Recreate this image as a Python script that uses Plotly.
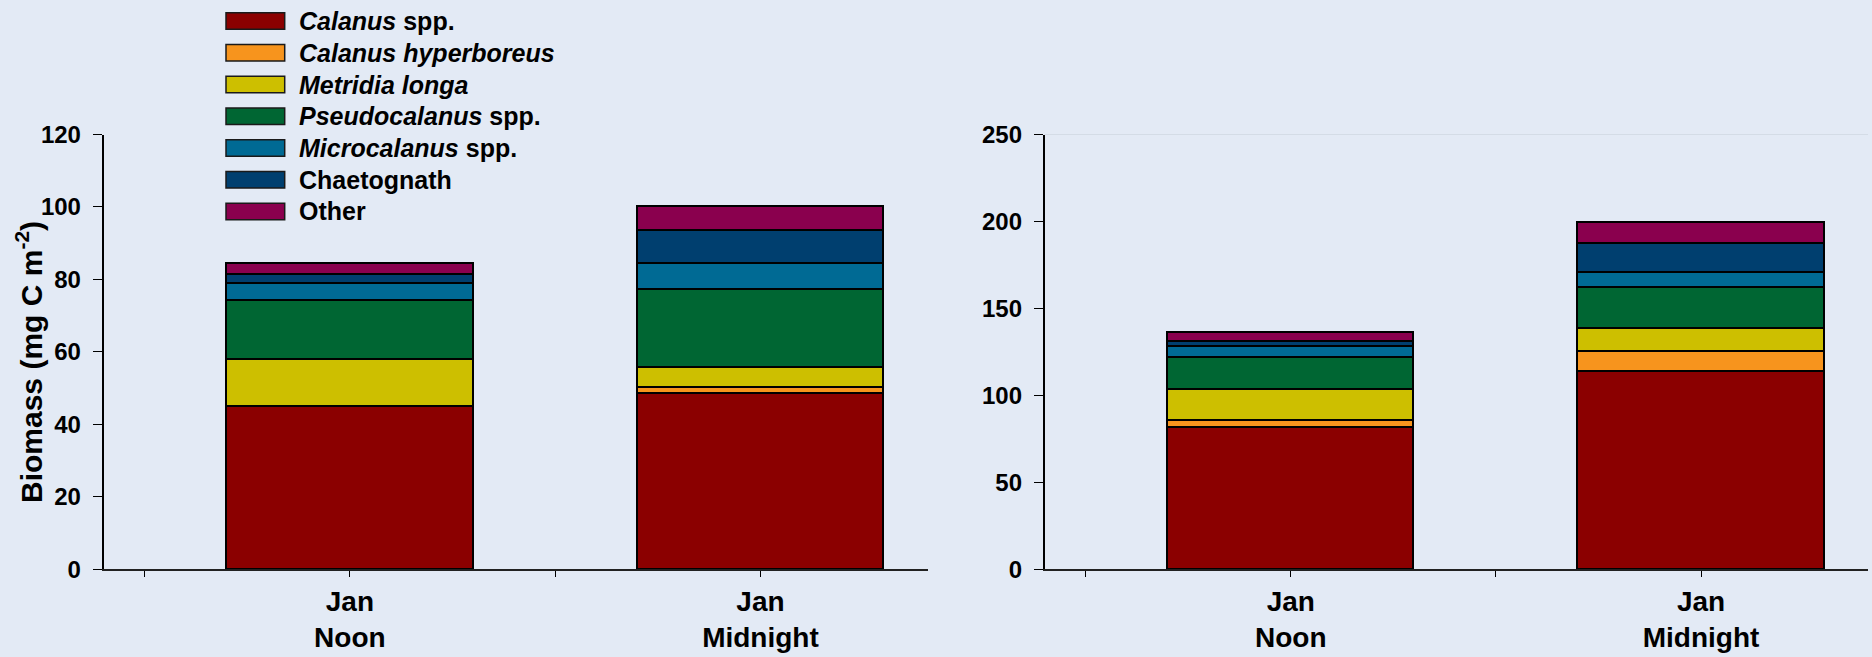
import plotly.graph_objects as go

# Sampling occasions (x categories)
categories = ["Jan<br>Noon", "Jan<br>Midnight"]

# Taxa, legend labels and fill colours (bottom of stack first)
taxa = ["Calanus spp.", "Calanus hyperboreus", "Metridia longa",
        "Pseudocalanus spp.", "Microcalanus spp.", "Chaetognath", "Other"]
taxa_labels = ["<i>Calanus</i> spp.", "<i>Calanus hyperboreus</i>", "<i>Metridia longa</i>",
               "<i>Pseudocalanus</i> spp.", "<i>Microcalanus</i> spp.", "Chaetognath", "Other"]
taxa_colors = ["#8B0000", "#F7941D", "#CDBF00", "#006633", "#006A94", "#003F6F", "#8A004E"]

# Left panel biomass (mg C m-2), [Noon, Midnight]
left_calanus = [44.8, 48.5]
left_hyperboreus = [0.0, 1.7]
left_metridia = [13.2, 5.4]
left_pseudocalanus = [16.1, 21.7]
left_microcalanus = [4.8, 7.2]
left_chaetognath = [2.5, 9.0]
left_other = [2.9, 6.6]

# Right panel biomass (mg C m-2), [Noon, Midnight]
right_calanus = [81.5, 113.8]
right_hyperboreus = [4.2, 11.7]
right_metridia = [17.9, 12.7]
right_pseudocalanus = [18.3, 24.0]
right_microcalanus = [6.1, 8.5]
right_chaetognath = [2.7, 16.5]
right_other = [5.4, 12.1]

left_ticks = [0, 20, 40, 60, 80, 100, 120]
right_ticks = [0, 50, 100, 150, 200, 250]

left_series = [left_calanus, left_hyperboreus, left_metridia, left_pseudocalanus,
               left_microcalanus, left_chaetognath, left_other]
right_series = [right_calanus, right_hyperboreus, right_metridia, right_pseudocalanus,
                right_microcalanus, right_chaetognath, right_other]

W, H = 1872, 657
BG = "#E3EAF5"
FONT = "Liberation Sans, Arial, sans-serif"

xpos = list(range(len(categories)))
# boundaries between occasions get small unlabeled ticks
boundaries = [i - 0.5 for i in xpos]

fig = go.Figure()
for name, vals_l, vals_r, col in zip(taxa, left_series, right_series, taxa_colors):
    fig.add_trace(go.Bar(x=xpos, y=vals_l, name=name, width=0.6,
                         marker=dict(color=col, line=dict(color="#000000", width=1.5)),
                         xaxis="x", yaxis="y", showlegend=False))
    fig.add_trace(go.Bar(x=xpos, y=vals_r, name=name, width=0.6,
                         marker=dict(color=col, line=dict(color="#000000", width=1.5)),
                         xaxis="x2", yaxis="y2", showlegend=False))

ydom = [(H - 569.3) / H, (H - 134.5) / H]

xaxis_common = dict(
    range=[-0.6, 1.407], tickmode="array", tickvals=xpos, ticktext=categories,
    ticks="outside", ticklen=6, tickwidth=1.2, tickcolor="#000000",
    minor=dict(tickmode="array", tickvals=boundaries, ticks="outside",
               ticklen=6, tickwidth=1.2, tickcolor="#000000", showgrid=False),
    showline=True, linecolor="#222222", linewidth=2, showgrid=False, zeroline=False,
    tickfont=dict(family=FONT, size=28, color="#000000", weight="bold"),
    ticklabelstandoff=0, automargin=False, fixedrange=True,
)
yaxis_common = dict(
    ticks="outside", ticklen=9, tickwidth=1.2, tickcolor="#000000",
    showline=True, linecolor="#000000", linewidth=1.5, showgrid=False, zeroline=False,
    tickfont=dict(family=FONT, size=24, color="#000000", weight="bold"),
    ticklabelstandoff=7, tickmode="array", domain=ydom, automargin=False,
    fixedrange=True,
)

fig.update_layout(
    width=W, height=H,
    margin=dict(l=0, r=0, t=0, b=0, autoexpand=False),
    paper_bgcolor=BG, plot_bgcolor=BG,
    barmode="stack", bargap=0,
    showlegend=False,
    xaxis=dict(domain=[103.5 / W, 927.6 / W], anchor="y", **xaxis_common),
    xaxis2=dict(domain=[1044.6 / W, 1868 / W], anchor="y2", **xaxis_common),
    yaxis=dict(range=[0, 120], tickvals=left_ticks, anchor="x", **yaxis_common),
    yaxis2=dict(range=[0, 250], tickvals=right_ticks, anchor="x2", **yaxis_common),
)

# Light reference line across the top of the right panel
fig.add_shape(type="line", xref="x2 domain", yref="y2", x0=0, x1=1,
              y0=right_ticks[-1], y1=right_ticks[-1],
              line=dict(color="#C6CDD7", width=1), layer="below")

# Y-axis title
fig.add_annotation(text="Biomass (mg C m<sup>-2</sup>)", textangle=-90,
                   xref="paper", yref="paper", x=29 / W, y=(H - 362) / H,
                   xanchor="center", yanchor="middle", showarrow=False,
                   font=dict(family=FONT, size=30, color="#000000", weight="bold"))

# Legend: swatches and labels
row0, row_step = 21.0, 31.75
for i, (lab, col) in enumerate(zip(taxa_labels, taxa_colors)):
    yc = row0 + i * row_step
    fig.add_shape(type="rect", xref="paper", yref="paper",
                  x0=226 / W, x1=284.7 / W,
                  y0=(H - (yc - 8.3)) / H, y1=(H - (yc + 8.3)) / H,
                  fillcolor=col, line=dict(color="#1a1a1a", width=1.5))
    fig.add_annotation(text=lab, xref="paper", yref="paper",
                       x=297 / W, y=(H - yc) / H, xanchor="left", yanchor="middle",
                       showarrow=False,
                       font=dict(family=FONT, size=25, color="#000000", weight="bold"))

fig.write_html("out.html")
